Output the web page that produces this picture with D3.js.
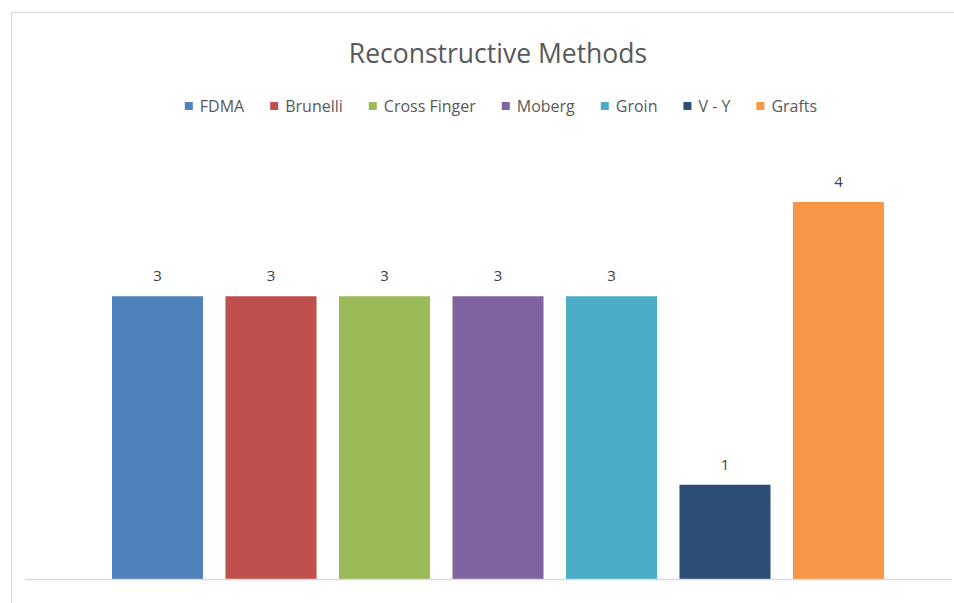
<!DOCTYPE html>
<html>
<head>
<meta charset="utf-8">
<script src="https://cdn.jsdelivr.net/npm/d3@7"></script>
<style>
  body { margin: 0; background: #fff; }
  text { font-family: "Open Sans", "Liberation Sans", sans-serif; }
</style>
</head>
<body>
<script>
// chart data
const methods = ["FDMA", "Brunelli", "Cross Finger", "Moberg", "Groin", "V - Y", "Grafts"];
const counts = [3, 3, 3, 3, 3, 1, 4];
const colors = ["#4F81BD", "#C0504D", "#9BBB59", "#8064A2", "#4BACC6", "#2C4D75", "#F79646"];

function main(){
    let width = 954;
    let height = 603;

    let svg = d3.select("body").append("svg")
        .attr("width", width)
        .attr("height", height);

    // chart area border (only top and left visible in the crop)
    svg.append("path")
        .attr("d", "M11.5," + height + "V12.5H" + width)
        .attr("fill", "none")
        .attr("stroke", "#d9d9d9");

    let x = d3.scaleBand()
        .domain(methods)
        .range([100.75, 895.25])
        .paddingInner(0.198)
        .paddingOuter(0.099);

    let y = d3.scaleLinear()
        .domain([0, 4])
        .range([579, 202]);

    let color = d3.scaleOrdinal(methods, colors);

    svg.append("text")
        .attr("x", 498)
        .attr("y", 63)
        .attr("text-anchor", "middle")
        .attr("font-size", 26.5)
        .attr("fill", "#595959")
        .text("Reconstructive Methods");

    // legend, laid out from measured text widths and centred
    let legend = svg.append("g");
    let cursor = 0;
    methods.forEach(function(m){
        let item = legend.append("g").attr("transform", "translate(" + cursor + ",0)");
        item.append("rect")
            .attr("x", 0)
            .attr("y", -10)
            .attr("width", 8)
            .attr("height", 8)
            .attr("fill", color(m));
        let t = item.append("text")
            .attr("x", 15)
            .attr("y", 0)
            .attr("font-size", 16)
            .attr("fill", "#595959")
            .text(m);
        cursor += 15 + t.node().getComputedTextLength() + 26;
    });
    let legendWidth = cursor - 26;
    legend.attr("transform", "translate(" + (501 - legendWidth / 2) + ",112)");

    svg.selectAll("rect.bar")
        .data(counts)
        .enter()
        .append("rect")
        .attr("class", "bar")
        .attr("x", function(d, i){ return x(methods[i]); })
        .attr("y", function(d){ return y(d); })
        .attr("width", x.bandwidth())
        .attr("height", function(d){ return y(0) - y(d); })
        .attr("fill", function(d, i){ return color(methods[i]); });

    svg.selectAll("text.lbl")
        .data(counts)
        .enter()
        .append("text")
        .attr("class", "lbl")
        .attr("x", function(d, i){ return x(methods[i]) + x.bandwidth() / 2; })
        .attr("y", function(d){ return y(d) - 15; })
        .attr("text-anchor", "middle")
        .attr("font-size", 15)
        .attr("fill", "#404040")
        .text(function(d){ return d; });

    // category axis line, no ticks or labels
    svg.append("line")
        .attr("x1", 25)
        .attr("x2", 952)
        .attr("y1", 579.5)
        .attr("y2", 579.5)
        .attr("stroke", "#d9d9d9")
        .attr("stroke-width", 1.5);
}

main();
</script>
</body>
</html>
